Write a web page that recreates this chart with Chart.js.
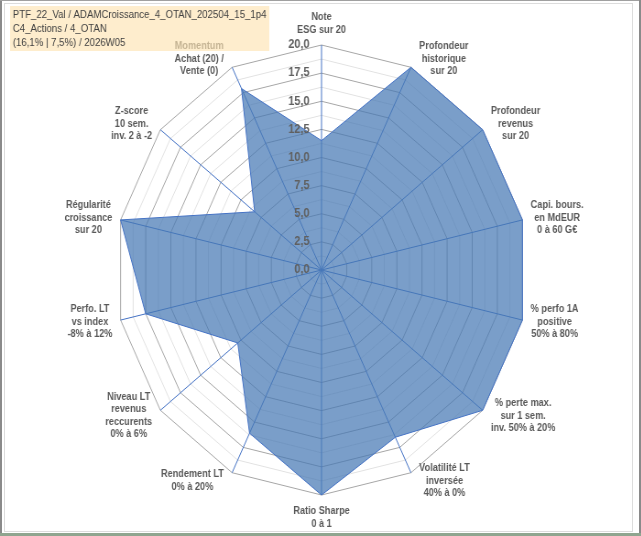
<!DOCTYPE html>
<html>
<head>
<meta charset="utf-8">
<title>Radar PTF_22_Val</title>
<script src="https://cdn.jsdelivr.net/npm/chart.js@4.4.1/dist/chart.umd.min.js"></script>
<style>
  html, body { margin: 0; padding: 0; background: #fff; overflow: hidden; }
  #wrap { position: absolute; left: 0; top: 0; width: 700px; height: 536px;
          transform: scaleX(0.916); transform-origin: 0 0; }
  .frame { position: absolute; box-sizing: border-box; }
</style>
</head>
<body>
<div id="wrap"><canvas id="radarChart" width="700" height="536"></canvas></div>
<div class="frame" style="left:4px;top:3px;width:629px;height:529px;border:1px solid #dcdcdc;"></div>
<div class="frame" style="left:0;top:0;width:2px;height:536px;background:#8a8a8a;"></div>
<div class="frame" style="left:0;top:0;width:641px;height:1px;background:#a0a0a0;"></div>
<div class="frame" style="left:639px;top:0;width:2px;height:536px;background:#8a8a8a;"></div>
<div class="frame" style="left:0;top:533px;width:641px;height:3px;background:#8fa58f;"></div>
<script>
// axis labels, clockwise from the top
const axisLabels = [
  ['Note', 'ESG sur 20'],
  ['Profondeur', 'historique', 'sur 20'],
  ['Profondeur', 'revenus', 'sur 20'],
  ['Capi. bours.', 'en MdEUR', '0 à 60 G€'],
  ['% perfo 1A', 'positive', '50% à 80%'],
  ['% perte max.', 'sur 1 sem.', 'inv. 50% à 20%'],
  ['Volatilité LT', 'inversée', '40% à 0%'],
  ['Ratio Sharpe', '0 à 1'],
  ['Rendement LT', '0% à 20%'],
  ['Niveau LT', 'revenus', 'reccurents', '0% à 6%'],
  ['Perfo. LT', 'vs index', '-8% à 12%'],
  ['Régularité', 'croissance', 'sur 20'],
  ['Z-score', '10 sem.', 'inv. 2 à -2'],
  ['Momentum', 'Achat (20) /', 'Vente (0)']
];

const scores = [11.5, 20, 20, 20, 20, 20, 16.5, 20, 16.1, 10.4, 17.5, 20, 8.3, 17.9];

const tickValues = [0, 2.5, 5, 7.5, 10, 12.5, 15, 17.5, 20];
const tickLabels = ['0,0', '2,5', '5,0', '7,5', '10,0', '12,5', '15,0', '17,5', '20,0'];

const titleLines = [
  'PTF_22_Val / ADAMCroissance_4_OTAN_202504_15_1p4',
  'C4_Actions / 4_OTAN',
  '(16,1% | 7,5%) / 2026W05'
];

const labelFont = 'bold 10px "Liberation Sans", Arial, sans-serif';
const tickFont = 'bold 12px "Liberation Sans", Arial, sans-serif';
const titleFont = '10.5px "Liberation Sans", Arial, sans-serif';

// labels centred line by line, like the spreadsheet does, then the title box on top
const excelLabels = {
  id: 'excelLabels',
  afterDraw(chart) {
    const ctx = chart.ctx;
    const r = chart.scales.r;
    ctx.save();

    ctx.font = tickFont;
    ctx.fillStyle = '#606060';
    ctx.textAlign = 'right';
    ctx.textBaseline = 'middle';
    tickValues.forEach((v, i) => {
      const d = r.getDistanceFromCenterForValue(v);
      ctx.fillText(tickLabels[i], r.xCenter - 13, r.yCenter - d);
    });

    ctx.font = labelFont;
    ctx.fillStyle = '#595959';
    ctx.textAlign = 'center';
    const lh = 12.5;
    axisLabels.forEach((lines, i) => {
      const tip = r.getPointPosition(i, r.drawingArea);
      const a = i * 2 * Math.PI / axisLabels.length;
      const sin = Math.sin(a), cos = Math.cos(a);
      const h = lines.length * lh;
      const w = Math.max(...lines.map(t => ctx.measureText(t).width));
      let cx, top;
      if (Math.abs(sin) < 1e-6) {
        cx = tip.x;
        top = cos > 0 ? tip.y - 9 - h : tip.y + 10;
      } else {
        cx = sin > 0 ? tip.x + 9 + w / 2 : tip.x - 9 - w / 2;
        top = tip.y - cos * 9 - h / 2;
      }
      lines.forEach((t, k) => ctx.fillText(t, cx, top + lh * (k + 0.5)));
    });

    ctx.fillStyle = 'rgba(253, 228, 178, 0.65)';
    ctx.fillRect(11, 6, 283, 45);
    ctx.font = titleFont;
    ctx.fillStyle = '#404040';
    ctx.textAlign = 'left';
    titleLines.forEach((t, k) => ctx.fillText(t, 14, 15.5 + k * 14));

    ctx.restore();
  }
};

const ctx = document.getElementById('radarChart').getContext('2d');

new Chart(ctx, {
  type: 'radar',
  data: {
    labels: axisLabels,
    datasets: [{
      label: 'PTF_22_Val',
      data: scores,
      backgroundColor: 'rgba(70, 120, 180, 0.72)',
      borderColor: '#4472c4',
      borderWidth: 1,
      pointRadius: 0
    }]
  },
  options: {
    responsive: false,
    animation: false,
    layout: {
      padding: { left: 126, right: 124, top: 45, bottom: 41 }
    },
    plugins: {
      legend: { display: false },
      tooltip: { enabled: false }
    },
    scales: {
      r: {
        min: 0,
        max: 20,
        ticks: { display: false, stepSize: 1.25 },
        pointLabels: { display: false },
        grid: {
          color: c => (c.tick && c.tick.value % 2.5 === 0) ? '#a6a6a6' : '#e2e2e2',
          lineWidth: 1
        },
        angleLines: { color: '#4472c4', lineWidth: 1 }
      }
    }
  },
  plugins: [excelLabels]
});
</script>
</body>
</html>
